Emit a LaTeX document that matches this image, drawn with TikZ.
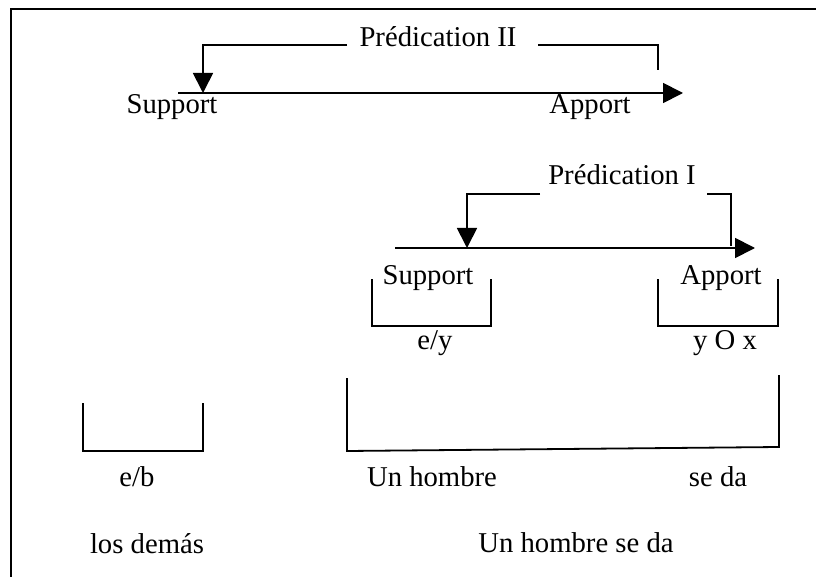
\documentclass[tikz,border=0pt]{standalone}
\usepackage{fontspec}
\setmainfont{Liberation Serif}
\usetikzlibrary{arrows.meta}
\begin{document}
\begin{tikzpicture}[x=1pt,y=-1pt,
  lbl/.style={inner sep=0pt, anchor=base, font=\fontsize{28.7}{34}\selectfont},
  ln/.style={line width=1.8pt},
  arr/.style={ln, -{Triangle[length=20pt,width=20pt]}},
  framestyle/.style={line width=2.5pt}]
\useasboundingbox (0,0) rectangle (816,577);

% frame (top and left sides only)
\coordinate (fA) at (11,577);
\coordinate (fB) at (11,9);
\coordinate (fC) at (816,9);
\draw[framestyle] (fA) -- (fB) -- (fC);

% ---------- Prédication II ----------
\node[lbl] (p2) at (438,47) {Prédication II};
\node[lbl] (s2) at (172,114) {Support};
\node[lbl] (a2) at (590,114) {Apport};
\coordinate (m2s) at (178,93);
\coordinate (m2e) at (683,93);
\draw[arr] (m2s) -- (m2e);
\coordinate (l2a) at (347,45);
\coordinate (l2b) at (203,45);
\coordinate (l2c) at (203,93);
\draw[arr] (l2a) -- (l2b) -- (l2c);
\coordinate (r2a) at (538,45);
\coordinate (r2b) at (658,45);
\coordinate (r2c) at (658,70);
\draw[ln] (r2a) -- (r2b) -- (r2c);

% ---------- Prédication I ----------
\node[lbl] (p1) at (622,185) {Prédication I};
\coordinate (m1s) at (395,248);
\coordinate (m1e) at (755,248);
\draw[arr] (m1s) -- (m1e);
\coordinate (l1a) at (540,194);
\coordinate (l1b) at (467,194);
\coordinate (l1c) at (467,248);
\draw[arr] (l1a) -- (l1b) -- (l1c);
\coordinate (r1a) at (707,194);
\coordinate (r1b) at (731,194);
\coordinate (r1c) at (731,246);
\draw[ln] (r1a) -- (r1b) -- (r1c);
\node[lbl] (s1) at (428,284) {Support};
\node[lbl] (a1) at (721,284) {Apport};

% small brackets
\coordinate (b1a) at (372,279);
\coordinate (b1b) at (372,326);
\coordinate (b1c) at (491,326);
\coordinate (b1d) at (491,279);
\draw[ln] (b1a) -- (b1b) -- (b1c) -- (b1d);
\coordinate (b2a) at (658,279);
\coordinate (b2b) at (658,326);
\coordinate (b2c) at (778,326);
\coordinate (b2d) at (778,279);
\draw[ln] (b2a) -- (b2b) -- (b2c) -- (b2d);
\node[lbl] (ey) at (435,349) {e/y};
\node[lbl] (yox) at (725,349) {y O x};

% ---------- bottom ----------
\coordinate (b3a) at (83,403);
\coordinate (b3b) at (83,451);
\coordinate (b3c) at (203,451);
\coordinate (b3d) at (203,403);
\draw[ln] (b3a) -- (b3b) -- (b3c) -- (b3d);
\coordinate (b4a) at (347,378);
\coordinate (b4b) at (347,451);
\coordinate (b4c) at (779,447);
\coordinate (b4d) at (779,375);
\draw[ln] (b4a) -- (b4b) -- (b4c) -- (b4d);

\node[lbl] (eb) at (137,486) {e/b};
\node[lbl] (uh) at (432,486) {Un hombre};
\node[lbl] (sd) at (718,486) {se da};
\node[lbl] (ld) at (147,553) {los demás};
\node[lbl] (uhsd) at (576,552) {Un hombre se da};
\end{tikzpicture}
\end{document}
